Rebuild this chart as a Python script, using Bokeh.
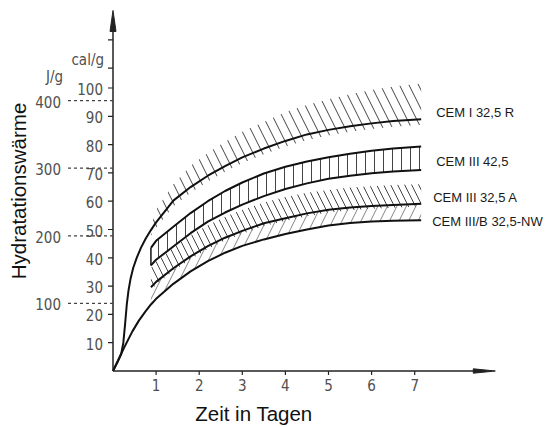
import numpy as np
from bokeh.plotting import figure
from bokeh.models import Range1d
from bokeh.core.properties import value
from bokeh.embed import file_html
from bokeh.resources import INLINE

# ---------------- data (days, cal/g) ----------------
days_band = [0.88, 1.0, 1.4, 1.8, 2.2, 2.6, 3.0, 3.5, 4.0, 4.5, 5.0, 5.5, 6.0, 6.5, 7.15]

days_start_I = [0, 0.1, 0.19, 0.24, 0.28, 0.32, 0.36, 0.41, 0.47, 0.55, 0.65, 0.76]
cem_I_start = [0, 3.0, 6.0, 10.0, 16.5, 23.5, 28.5, 32.8, 36.5, 40.0, 43.6, 46.8]
cem_I = [49.8, 52.5, 60.2, 65.0, 69.0, 72.4, 75.5, 78.6, 81.3, 83.6, 85.2, 86.5, 87.5, 88.3, 89.0]
cem_I_hatch_top = [51, 57, 66, 72.5, 77, 81, 84.5, 88, 91.5, 94, 96, 97.8, 99.3, 100.5, 101.6]

cem_III_425_upper = [43.5, 46, 51, 55.8, 60, 63.6, 66.6, 69.8, 72.2, 74, 75.5, 76.8, 77.8, 78.6, 79.3]
cem_III_425_lower = [37.3, 39.3, 44, 48.7, 52.8, 56, 58.8, 61.8, 64.3, 66.3, 67.9, 69, 69.9, 70.5, 71]

cem_III_325A = [29.6, 31.5, 36.3, 40.5, 44.1, 47.1, 49.5, 52.2, 54, 55.7, 57, 57.8, 58.3, 58.7, 59.1]
cem_III_325A_hatch_top = [36.5, 38.5, 43.5, 48, 51.5, 54.5, 57, 59.5, 61.5, 63, 64, 64.8, 65.3, 65.7, 66]

days_start_IIIB = [0, 0.1, 0.27, 0.45, 0.6, 0.75]
cem_IIIB_start = [0, 3.2, 8.6, 14.0, 17.8, 21.0]
cem_IIIB = [23.5, 25.5, 30.8, 35.2, 38.8, 41.8, 44.2, 46.5, 48.4, 50, 51.4, 52.3, 52.8, 53.1, 53.3]

labels = ["CEM I 32,5 R", "CEM III 42,5", "CEM III 32,5 A", "CEM III/B 32,5-NW"]

x_ticks = [1, 2, 3, 4, 5, 6, 7]
cal_ticks = [10, 20, 30, 40, 50, 60, 70, 80, 90, 100]
cal_extra_ticks = [107, 117]
joule_ticks = [100, 200, 300, 400]
J_PER_CAL = 4.1868

# ---------------- layout (pixel mapping of the frame) ----------------
W, H = 552, 427
X0, KX = 112.5, 43.1     # px of day 0, px per day
Y0, KY = 370.5, 2.83     # px of 0 cal/g, px per cal/g
X_END = 8.87             # x-axis arrow tip (days)
Y_END = 127.4            # y-axis arrow tip (cal/g)

p = figure(width=W, height=H, output_backend="svg", toolbar_location=None,
           x_axis_type=None, y_axis_type=None, min_border=0,
           x_range=Range1d(-X0 / KX, (W - X0) / KX),
           y_range=Range1d((Y0 - H) / KY, Y0 / KY))
p.outline_line_color = None
p.background_fill_color = "white"
p.border_fill_color = "white"

INK = "#111111"
HATCH = "#444444"
TICKFONT = value("DejaVu Sans Condensed")
TICKCOL = "#505050"
SANS = value("Liberation Sans")

db = np.array(days_band)
cI = np.array(cem_I)

# hatched bands
p.varea(x=db, y1=cI - 2.0, y2=cem_I_hatch_top, fill_color=None,
        hatch_pattern="\\", hatch_scale=19, hatch_weight=1, hatch_color=HATCH)
p.varea(x=db, y1=cem_III_425_lower, y2=cem_III_425_upper, fill_color=None,
        hatch_pattern="|", hatch_scale=9, hatch_weight=1, hatch_color=HATCH)
p.varea(x=db, y1=np.array(cem_III_325A) - 1.0, y2=cem_III_325A_hatch_top, fill_color=None,
        hatch_pattern="\\", hatch_scale=14, hatch_weight=1, hatch_color=HATCH)
p.varea(x=db, y1=cem_IIIB, y2=cem_III_325A, fill_color=None,
        hatch_pattern="/", hatch_scale=19, hatch_weight=0.8, hatch_color="#666666")

# curves
p.line(days_start_I + days_band, cem_I_start + cem_I, line_color=INK, line_width=2)
p.line(days_band, cem_III_425_upper, line_color=INK, line_width=2)
p.line(days_band, cem_III_425_lower, line_color=INK, line_width=2)
p.segment(x0=[days_band[0]], y0=[cem_III_425_lower[0]], x1=[days_band[0]], y1=[cem_III_425_upper[0]],
          line_color=INK, line_width=1.5)
p.line(days_band, cem_III_325A, line_color=INK, line_width=2)
p.line(days_start_IIIB + days_band, cem_IIIB_start + cem_IIIB, line_color=INK, line_width=2)

# curve labels, anchored at the curve ends
ends_y = [cem_I[-1], (cem_III_425_upper[-1] + cem_III_425_lower[-1]) / 2, cem_III_325A[-1], cem_IIIB[-1]]
offs_x = [15, 15, 12, 11]
offs_y = [-7, 3, -6, 1]
for lab, ey, ox, oy in zip(labels, ends_y, offs_x, offs_y):
    p.text(x=[days_band[-1]], y=[ey], text=[lab], x_offset=ox, y_offset=oy,
           text_font=SANS, text_font_size="13px", text_color="#1a1a1a",
           text_baseline="middle", text_align="left")

# axes
AX = "#222222"
p.line([0, 0], [0, Y_END - 18 / KY], line_color=AX, line_width=1.5)
p.line([0, X_END - 18 / KX], [0, 0], line_color=AX, line_width=1.5)
p.patch([-3 / KX, 0, 3 / KX], [Y_END - 21 / KY, Y_END, Y_END - 21 / KY], color=AX)
p.patch([X_END - 22 / KX, X_END, X_END - 22 / KX], [2.2 / KY, 0, -2.2 / KY], color=AX)

# y ticks (cal/g)
all_cal = cal_ticks + cal_extra_ticks
p.ray(x=[0] * len(all_cal), y=all_cal, length=5, length_units="screen", angle=np.pi,
      line_color=AX, line_width=1.2)
p.text(x=[0] * len(cal_ticks), y=cal_ticks, text=[str(v) for v in cal_ticks],
       x_offset=-10, y_offset=1, text_align="right", text_baseline="middle",
       text_font=TICKFONT, text_font_size="15px", text_color=TICKCOL)

# x ticks (days)
p.ray(x=x_ticks, y=[0] * len(x_ticks), length=4, length_units="screen", angle=-np.pi / 2,
      line_color=AX, line_width=1.2)
p.text(x=x_ticks, y=[0] * len(x_ticks), text=[str(v) for v in x_ticks],
       y_offset=8, text_align="center", text_baseline="top",
       text_font=TICKFONT, text_font_size="15px", text_color=TICKCOL)

# J/g scale with dashed leaders
j_cal = [v / J_PER_CAL for v in joule_ticks]
p.ray(x=[0] * len(j_cal), y=j_cal, length=48, length_units="screen", angle=np.pi,
      line_color="#444444", line_width=1.2, line_dash="3 3")
p.text(x=[0] * len(j_cal), y=j_cal, text=[str(v) for v in joule_ticks],
       x_offset=-52, y_offset=1, text_align="right", text_baseline="middle",
       text_font=TICKFONT, text_font_size="15px", text_color=TICKCOL)

# unit labels
p.text(x=[0], y=[110], text=["cal/g"], x_offset=-9, text_align="right", text_baseline="middle",
       text_font=TICKFONT, text_font_size="15px", text_color=TICKCOL)
p.text(x=[0], y=[104], text=["J/g"], x_offset=-50, text_align="right", text_baseline="middle",
       text_font=TICKFONT, text_font_size="15px", text_color=TICKCOL)

# axis titles
p.text(x=[3.27], y=[0], text=["Zeit in Tagen"], y_offset=42, text_align="center",
       text_baseline="middle", text_font=SANS, text_font_size="20.5px", text_color="#111111")
p.text(x=[0], y=[63.6], text=["Hydratationswärme"], x_offset=-95, angle=np.pi / 2,
       text_align="center", text_baseline="middle", text_font=SANS,
       text_font_size="20.5px", text_color="#111111")

open("out.html", "w").write(file_html(p, INLINE))
